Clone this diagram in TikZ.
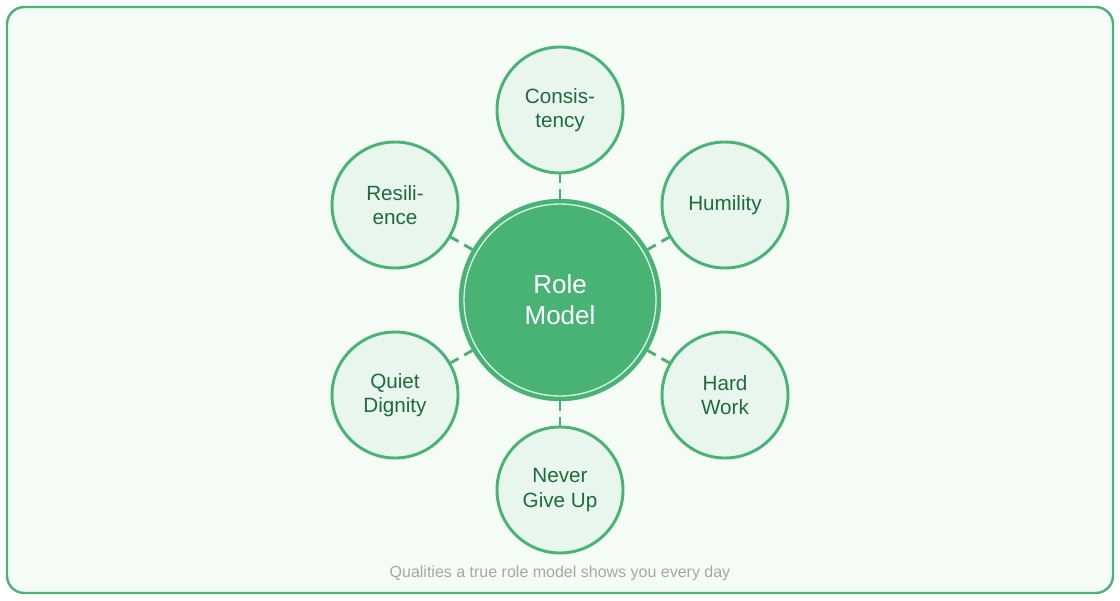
\documentclass[tikz,border=0pt]{standalone}
\usepackage{fontspec}
\setmainfont{Liberation Sans}
\begin{document}
\definecolor{gr}{HTML}{48B375}
\definecolor{bg}{HTML}{F5FCF5}
\definecolor{sat}{HTML}{E8F6EE}
\definecolor{tx}{HTML}{1E6B3C}
\begin{tikzpicture}[x=0.75pt,y=-0.75pt,
  satn/.style={circle,draw=gr,fill=sat,line width=2.2pt,minimum size=94.5pt,inner sep=0pt,align=center,text=tx,font=\fontsize{15.5}{18.5}\selectfont},
  link/.style={draw=gr,line width=2.2pt,dash pattern=on 7pt off 5pt}]
\useasboundingbox (0,0) rectangle (1120,600);
\draw[draw=gr,fill=bg,line width=1.8pt,rounded corners=13pt] (7,7) rectangle (1113,593);
\node[circle,fill=gr,draw=gr,line width=1.8pt,minimum size=150pt,inner sep=0pt] (c) at (560,300) {};
\draw[white!80!gr,line width=1pt] (560,300) circle (96);
\node[align=center,text=white,font=\fontsize{19.5}{23}\selectfont] (ct) at (560,300) {Role\\Model};
\node[satn] (a) at (560,110) {Consis-\\tency};
\node[satn] (b) at (725,205) {Humility};
\node[satn] (d) at (725,395) {Hard\\Work};
\node[satn] (e) at (560,490) {Never\\Give Up};
\node[satn] (f) at (395,395) {Quiet\\Dignity};
\node[satn] (g) at (395,205) {Resili-\\ence};
\foreach \n in {a,b,d,e,f,g}{\draw[link] (c) -- (\n);}
\node[text=gray!70,font=\fontsize{12}{14}\selectfont] (cap) at (560,573) {Qualities a true role model shows you every day};
\end{tikzpicture}
\end{document}
